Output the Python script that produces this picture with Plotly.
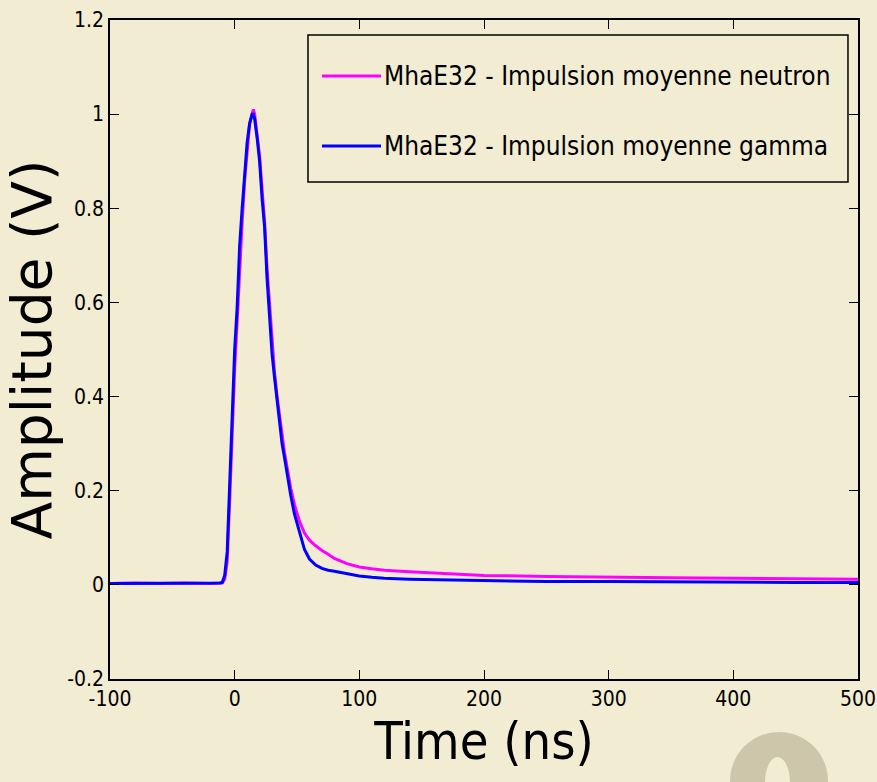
import plotly.graph_objects as go

# Time axis (ns)
time_ns = [-100, -80, -60, -40, -20, -12, -10, -8, -6, -4, -2, 0, 2, 4, 6, 8, 10, 12, 14, 15, 16,
           18, 20, 22, 24, 26, 28, 30, 32, 34, 36, 38, 40, 42, 45, 48, 52, 56, 60, 65, 70,
           75, 80, 90, 100, 110, 120, 140, 160, 180, 200, 250, 300, 350, 400, 450, 500]

# MhaE32 - mean neutron pulse (V)
neutron = [0.003, 0.004, 0.003, 0.004, 0.003, 0.003, 0.004, 0.012, 0.05, 0.18, 0.34, 0.46, 0.56, 0.68,
           0.77, 0.86, 0.93, 0.98, 1.0, 1.01, 1.0, 0.96, 0.91, 0.84, 0.77, 0.67, 0.59, 0.51, 0.45,
           0.40, 0.36, 0.31, 0.28, 0.25, 0.205, 0.17, 0.135, 0.11, 0.095, 0.083, 0.073, 0.065,
           0.056, 0.045, 0.038, 0.034, 0.031, 0.028, 0.025, 0.022, 0.020, 0.018, 0.016, 0.015,
           0.014, 0.013, 0.012]

# MhaE32 - mean gamma pulse (V)
gamma = [0.003, 0.003, 0.004, 0.003, 0.003, 0.004, 0.005, 0.02, 0.07, 0.22, 0.38, 0.50, 0.59, 0.72,
         0.80, 0.88, 0.94, 0.98, 1.0, 1.0, 0.99, 0.95, 0.90, 0.82, 0.76, 0.65, 0.57, 0.49, 0.44,
         0.39, 0.35, 0.30, 0.27, 0.235, 0.19, 0.15, 0.11, 0.075, 0.055, 0.042, 0.035, 0.031,
         0.029, 0.024, 0.019, 0.016, 0.014, 0.012, 0.011, 0.009, 0.008, 0.007, 0.007, 0.006,
         0.006, 0.005, 0.005]

series_names = ["MhaE32 - Impulsion moyenne neutron", "MhaE32 - Impulsion moyenne gamma"]
series_colors = ["#ff00ff", "#0000ff"]

x_tickvals = [-100, 0, 100, 200, 300, 400, 500]
x_ticktext = ["-100", "0", "100", "200", "300", "400", "500"]
y_tickvals = [-0.2, 0, 0.2, 0.4, 0.6, 0.8, 1.0, 1.2]
y_ticktext = ["-0.2", "0", "0.2", "0.4", "0.6", "0.8", "1", "1.2"]

NARROW = "Liberation Sans Narrow, Arial Narrow, DejaVu Sans Condensed, sans-serif"
BG = "#f2ecd3"

fig = go.Figure()
for name, vals, col in zip(series_names, [neutron, gamma], series_colors):
    fig.add_trace(go.Scatter(x=time_ns, y=vals, mode="lines", name=name,
                             line=dict(color=col, width=3), showlegend=False))

axis_common = dict(showgrid=False, zeroline=False, showline=True, linecolor="black",
                   linewidth=1.5, mirror="ticks", ticks="inside", ticklen=9,
                   tickcolor="black", tickwidth=1.2, automargin=False,
                   tickfont=dict(family=NARROW, size=21, color="black"))

fig.update_xaxes(range=[-100, 500], tickvals=x_tickvals, ticktext=x_ticktext,
                 title=dict(text="Time (ns)", font=dict(family=NARROW, size=52, color="black"),
                            standoff=3),
                 **axis_common)
fig.update_yaxes(range=[-0.2, 1.2], tickvals=y_tickvals, ticktext=y_ticktext,
                 title=dict(text="Amplitude (V)", font=dict(family="DejaVu Sans", size=55, color="black"),
                            standoff=6),
                 **axis_common)

# manual legend box (paper coordinates)
shapes = [dict(type="rect", xref="paper", yref="paper", x0=0.2647, x1=0.9866, y0=0.7542, y1=0.9772,
               line=dict(color="black", width=1.5), fillcolor="rgba(0,0,0,0)")]
annotations = []
row_y = [0.915, 0.8088]
for name, col, yy in zip(series_names, series_colors, row_y):
    shapes.append(dict(type="line", xref="paper", yref="paper", x0=0.2834, x1=0.3623, y0=yy, y1=yy,
                       line=dict(color=col, width=3)))
    annotations.append(dict(text=name, xref="paper", yref="paper", x=0.363, y=yy,
                            xanchor="left", yanchor="middle", showarrow=False,
                            font=dict(family=NARROW, size=26, color="black")))

# faint background watermark (bottom-right)
shapes.append(dict(type="circle", xref="paper", yref="paper", x0=0.8289, x1=0.9599, y0=-0.0804, y1=-0.2291,
                   line=dict(width=0), fillcolor="#cdc6ab", layer="below"))
shapes.append(dict(type="circle", xref="paper", yref="paper", x0=0.8757, x1=0.9091, y0=-0.1184, y1=-0.1950,
                   line=dict(width=0), fillcolor=BG, layer="below"))

fig.update_layout(
    width=877, height=782,
    margin=dict(l=110, r=19, t=20, b=103),
    paper_bgcolor=BG, plot_bgcolor="rgba(0,0,0,0)",
    showlegend=False,
    shapes=shapes, annotations=annotations,
)

fig.write_html("out.html",
               config={"displayModeBar": False},
               post_script="document.body.style.margin='0';document.body.style.background='%s';"
                           "document.body.style.overflow='hidden';" % BG)
